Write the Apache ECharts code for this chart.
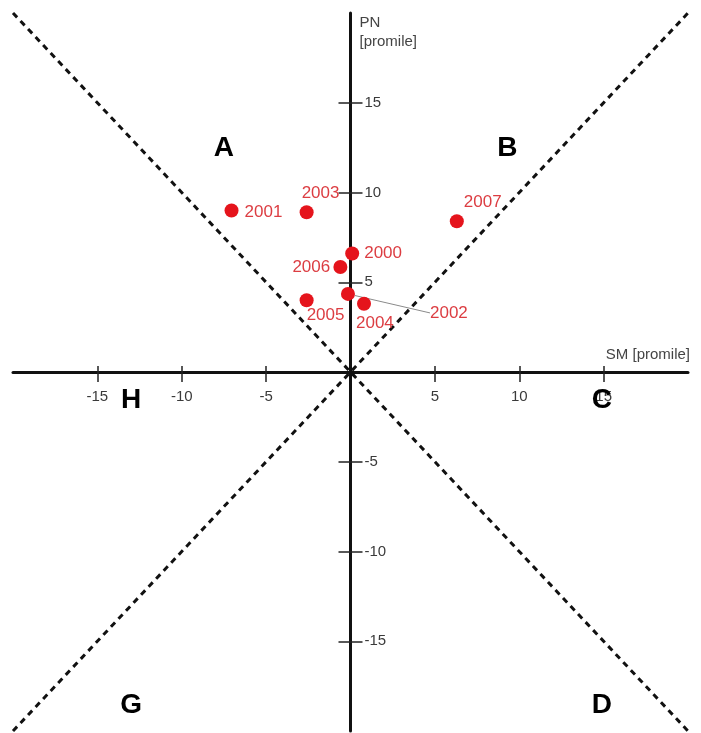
<!DOCTYPE html>
<html>
<head>
<meta charset="utf-8">
<script src="https://cdn.jsdelivr.net/npm/echarts@6/dist/echarts.min.js"></script>
<style>
  html, body { margin: 0; padding: 0; background: #fff; }
  #chart { width: 701px; height: 733px; }
</style>
</head>
<body>
<div id="chart"></div>
<script>
// year points: SM (x) and PN (y), in promile
var years = ["2000", "2001", "2002", "2003", "2004", "2005", "2006", "2007"];
var sm = [0.1, -7.05, -0.15, -2.6, 0.8, -2.6, -0.6, 6.3];
var pn = [6.6, 9.0, 4.35, 8.9, 3.8, 4.0, 5.85, 8.4];

// zone letters
var zoneNames = ["A", "B", "C", "D", "G", "H"];
var zoneX = [-7.5, 9.3, 14.9, 14.9, -13.0, -13.0];
var zoneY = [12.45, 12.45, -1.6, -18.55, -18.55, -1.6];

// dividing diagonals
var diagDown = [[-20, 20], [20, -20]];
var diagUp = [[-20, -20], [20, 20]];

// axis ticks / labels
var tickValues = [-15, -10, -5, 5, 10, 15];
var axisMin = -20, axisMax = 20, step = 5;

// where each year label sits, relative to its dot (left edge, middle)
var labelShift = {
  "2000": [12, 0], "2001": [13, 2], "2002": [82, 19], "2003": [-5, -19],
  "2004": [-8, 20], "2005": [0, 15], "2006": [-48, 0], "2007": [7, -19]
};

var W = 701, H = 733;
var grid = { left: 13, right: 13, top: 13, bottom: 2 };
var gw = W - grid.left - grid.right, gh = H - grid.top - grid.bottom;
// axes cross at 0,0 -> pull them in from the grid edge
var xOffset = -gh * (0 - axisMin) / (axisMax - axisMin);
var yOffset = -gw * (0 - axisMin) / (axisMax - axisMin);

var dotSize = 14;
var points = years.map(function (y, i) {
  var s = labelShift[y];
  var item = {
    name: y,
    value: [sm[i], pn[i]],
    label: { position: [s[0] + dotSize / 2, s[1] + dotSize / 2] }
  };
  if (y === "2002") {
    item.labelLine = { show: true, lineStyle: { color: "#8a8a8a", width: 1 } };
  }
  return item;
});

var zones = zoneNames.map(function (n, i) {
  return { name: n, value: [zoneX[i], zoneY[i]] };
});

var font = "Liberation Sans, Arial, sans-serif";
var tickStyle = { color: "#222", width: 1.5 };

var chart = echarts.init(document.getElementById("chart"));
chart.setOption({
  animation: false,
  grid: { left: grid.left, right: grid.right, top: grid.top, bottom: grid.bottom, outerBoundsMode: "none" },
  xAxis: [
    {
      type: "value", min: axisMin, max: axisMax, interval: step,
      position: "bottom", offset: xOffset,
      name: "SM [promile]", nameLocation: "end", nameGap: 2,
      nameTextStyle: { align: "right", verticalAlign: "bottom", padding: [0, 0, 10, 0],
        fontSize: 15, color: "#444", fontFamily: font },
      axisLine: { onZero: false, lineStyle: { color: "#111", width: 3 } },
      axisTick: { show: true, length: 10, customValues: tickValues, lineStyle: tickStyle },
      axisLabel: { customValues: tickValues, margin: 17, fontSize: 15, color: "#3a3a3a", fontFamily: font },
      splitLine: { show: false }
    },
    {
      type: "value", min: axisMin, max: axisMax, interval: step,
      position: "top", offset: xOffset - gh + 2 * (-xOffset),
      axisLine: { show: false, onZero: false },
      axisTick: { show: true, length: 6, customValues: tickValues, lineStyle: tickStyle },
      axisLabel: { show: false },
      splitLine: { show: false }
    }
  ],
  yAxis: [
    {
      type: "value", min: axisMin, max: axisMax, interval: step,
      position: "left", offset: yOffset,
      name: "PN\n[promile]", nameLocation: "end", nameGap: -38,
      nameTextStyle: { align: "left", verticalAlign: "bottom", padding: [0, 0, 0, 9],
        lineHeight: 19, fontSize: 15, color: "#444", fontFamily: font },
      axisLine: { onZero: false, lineStyle: { color: "#111", width: 3 } },
      axisTick: { show: true, length: 12, customValues: tickValues, lineStyle: tickStyle },
      axisLabel: { inside: true, customValues: tickValues, margin: 14,
        fontSize: 15, color: "#3a3a3a", fontFamily: font },
      splitLine: { show: false }
    },
    {
      type: "value", min: axisMin, max: axisMax, interval: step,
      position: "right", offset: yOffset - gw + 2 * (-yOffset),
      axisLine: { show: false, onZero: false },
      axisTick: { show: true, length: 12, customValues: tickValues, lineStyle: tickStyle },
      axisLabel: { show: false },
      splitLine: { show: false }
    }
  ],
  series: [
    {
      type: "line", data: diagDown, symbol: "none", silent: true,
      lineStyle: { color: "#111", width: 3, type: [6, 5] }
    },
    {
      type: "line", data: diagUp, symbol: "none", silent: true,
      lineStyle: { color: "#111", width: 3, type: [6, 5] }
    },
    {
      type: "scatter", data: points, symbolSize: dotSize, z: 5,
      itemStyle: { color: "#e5141c", opacity: 1 },
      label: {
        show: true, formatter: "{b}", align: "left", verticalAlign: "middle",
        fontSize: 17, color: "#dc3d42", fontFamily: font
      }
    },
    {
      type: "scatter", data: zones, symbolSize: 0, silent: true, z: 6,
      itemStyle: { opacity: 1 },
      label: {
        show: true, formatter: "{b}", position: "inside",
        fontSize: 28, fontWeight: "bold", color: "#000", fontFamily: font
      }
    }
  ]
});
</script>
</body>
</html>
